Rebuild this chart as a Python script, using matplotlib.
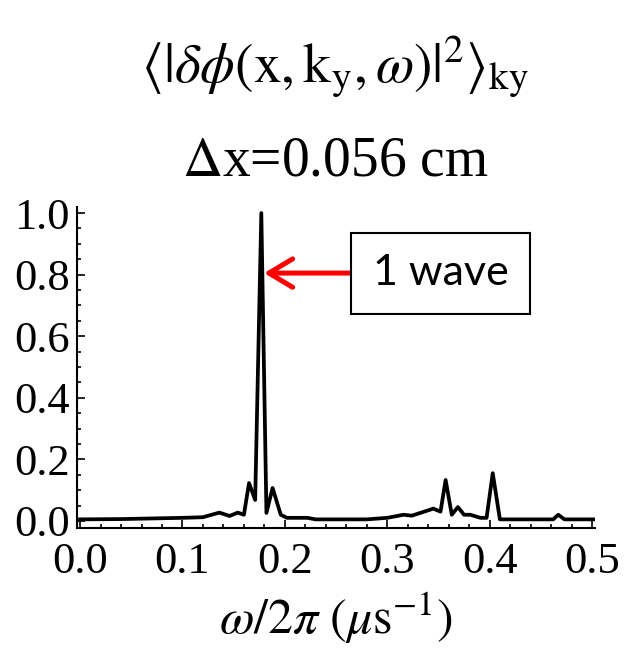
import matplotlib
matplotlib.use("Agg")
import matplotlib.pyplot as plt
from matplotlib.ticker import MultipleLocator

# -----------------------------
# data
# -----------------------------
freq = [0.000, 0.040, 0.100, 0.120, 0.136, 0.146, 0.154, 0.160, 0.165, 0.171,
        0.177, 0.182, 0.188, 0.196, 0.202, 0.222, 0.230, 0.280, 0.300, 0.316,
        0.324, 0.336, 0.345, 0.352, 0.357, 0.363, 0.369, 0.375, 0.381, 0.391,
        0.397, 0.403, 0.410, 0.462, 0.467, 0.473, 0.503]
power = [0.005, 0.006, 0.010, 0.012, 0.027, 0.016, 0.027, 0.020, 0.123, 0.068,
         1.000, 0.026, 0.107, 0.020, 0.010, 0.010, 0.005, 0.005, 0.010, 0.020,
         0.017, 0.030, 0.040, 0.030, 0.133, 0.020, 0.045, 0.020, 0.020, 0.010,
         0.010, 0.155, 0.005, 0.005, 0.020, 0.005, 0.005]

title1 = r'$\langle|\delta\phi(\mathrm{x},\mathrm{k}_\mathrm{y},\omega)|^2\rangle_\mathrm{ky}$'
title2 = r'$\Delta$x=0.056 cm'
xlabel = r'$\omega/2\pi\ (\mu\mathrm{s}^{-1})$'
label = "1 wave"
peak_x, peak_y = 0.177, 0.805
box_x = 0.352

plt.rcParams['font.family'] = ['Liberation Serif', 'DejaVu Serif']
plt.rcParams['mathtext.fontset'] = 'stix'

fig = plt.figure(figsize=(6.25, 6.5), dpi=100)
ax = fig.add_axes([0.1232, 0.1877, 0.829, 0.494])

ax.plot(freq, power, color="black", lw=2.7, solid_joinstyle='round')

ax.set_xlim(-0.003, 0.503)
ax.set_ylim(-0.023, 1.02)

# axes only on the left and bottom, ticks pointing in
ax.spines['top'].set_visible(False)
ax.spines['right'].set_visible(False)
ax.spines['left'].set_linewidth(1.5)
ax.spines['bottom'].set_linewidth(1.5)
ax.xaxis.set_major_locator(MultipleLocator(0.1))
ax.xaxis.set_minor_locator(MultipleLocator(0.02))
ax.yaxis.set_major_locator(MultipleLocator(0.2))
ax.yaxis.set_minor_locator(MultipleLocator(0.05))
ax.tick_params(which='both', direction='in', width=1.2, labelsize=32)
ax.tick_params(axis='x', pad=10)
ax.tick_params(axis='y', pad=5)
ax.tick_params(which='major', length=6)
ax.tick_params(which='minor', length=3)
ax.xaxis.set_major_formatter(lambda v, p: f"{v:.1f}")
ax.yaxis.set_major_formatter(lambda v, p: f"{v:.1f}")

ax.set_xlabel(xlabel, fontsize=36, labelpad=6)

fig.text(0.535, 0.898, title1, fontsize=40, ha='center', va='center')
fig.text(0.536, 0.752, title2, fontsize=40, ha='center', va='center')

# red arrow + boxed label
ax.annotate(label, xy=(peak_x, peak_y), xytext=(box_x, peak_y),
            textcoords='data', fontsize=31, family=['Lato', 'DejaVu Sans'],
            ha='center', va='center',
            bbox=dict(boxstyle='square,pad=0.5', fc='white', ec='black', lw=1.5),
            arrowprops=dict(arrowstyle='->,head_length=0.55,head_width=0.33',
                            color='red', lw=3.6, shrinkA=0, shrinkB=2))

plt.savefig("out.png", dpi=100)
plt.close()
